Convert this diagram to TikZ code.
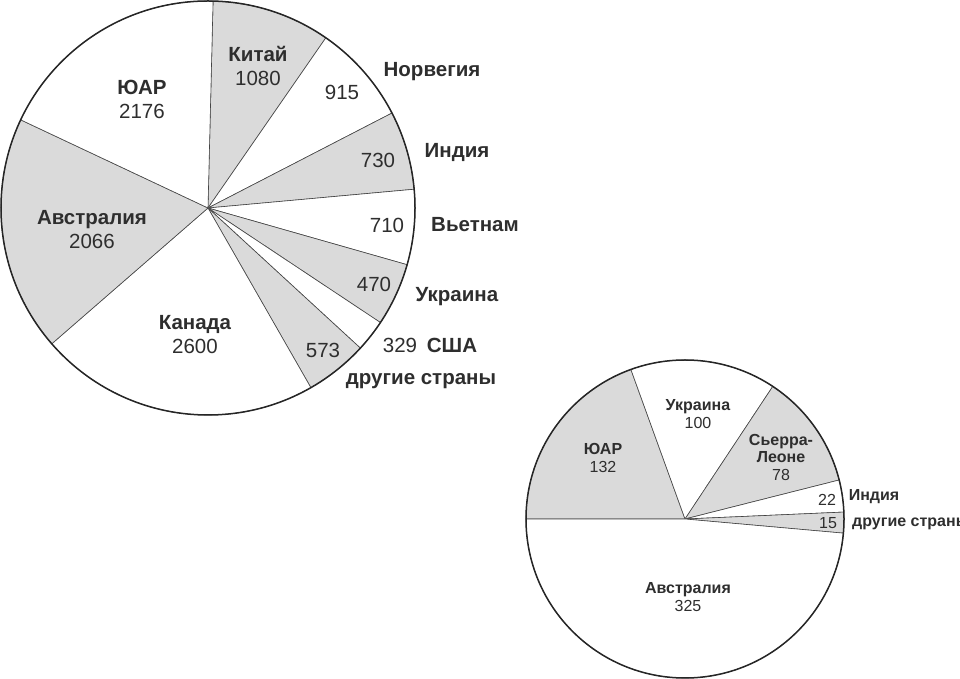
\documentclass[tikz,border=0pt]{standalone}
\usepackage{fontspec}
\setmainfont{Liberation Sans}
\definecolor{piegray}{HTML}{DADADA}
\definecolor{txt}{HTML}{2E2E2E}
\definecolor{edge}{HTML}{444444}
\tikzset{
  bigtxt/.style={text=txt, align=center, inner sep=0pt, font=\fontsize{20.5}{24}\selectfont},
  smalltxt/.style={text=txt, align=center, inner sep=0pt, font=\fontsize{16}{17.5}\selectfont},
  slice/.style={draw=edge, line width=0.6pt},
  rim/.style={draw=black!85, line width=1.5pt}
}
\def\pieslice#1#2#3#4#5{\filldraw[slice,fill=#1] #2 -- ++(#4:#3) arc[start angle=#4, end angle=#5, radius=#3] -- cycle;}
\begin{document}
\begin{tikzpicture}[x=1pt,y=1pt]
\useasboundingbox (0,0) rectangle (960,679);

%definitions
\def\bigc{(208,471)}
\def\bigr{207}
%
\def\smallc{(685,160)}
\def\smallr{159}

%fills, big pie
\pieslice{piegray}{\bigc}{\bigr}{88.6}{55.3}
\pieslice{white}{\bigc}{\bigr}{55.3}{27.3}
\pieslice{piegray}{\bigc}{\bigr}{27.3}{5.2}
\pieslice{white}{\bigc}{\bigr}{5.2}{-15.9}
\pieslice{piegray}{\bigc}{\bigr}{-15.9}{-33.6}
\pieslice{white}{\bigc}{\bigr}{-33.6}{-42.6}
\pieslice{piegray}{\bigc}{\bigr}{-42.6}{-60.2}
\pieslice{white}{\bigc}{\bigr}{-60.2}{-139}
\pieslice{piegray}{\bigc}{\bigr}{-139}{-205.2}
\pieslice{white}{\bigc}{\bigr}{-205.2}{-271.4}

%fills, small pie
\pieslice{piegray}{\smallc}{\smallr}{180}{109.9}
\pieslice{white}{\smallc}{\smallr}{109.9}{56.5}
\pieslice{piegray}{\smallc}{\smallr}{56.5}{14.2}
\pieslice{white}{\smallc}{\smallr}{14.2}{2.5}
\pieslice{piegray}{\smallc}{\smallr}{2.5}{-5.1}
\pieslice{white}{\smallc}{\smallr}{-5.1}{-180}

%shapes
\draw[rim] \bigc circle [radius=\bigr];
\draw[rim] \smallc circle [radius=\smallr];

%labels, big pie
\node[bigtxt] (chinaB) at (258,613) {\textbf{Китай}\\1080};
\node[bigtxt] (safB) at (142,580) {\textbf{ЮАР}\\2176};
\node[bigtxt] (ausB) at (92,449) {\textbf{Австралия}\\2066};
\node[bigtxt] (canB) at (195,344) {\textbf{Канада}\\2600};
\node[bigtxt] (norN) at (342,587) {915};
\node[bigtxt] (norL) at (432,607) {\textbf{Норвегия}};
\node[bigtxt] (indN) at (378,519) {730};
\node[bigtxt] (indL) at (457,527) {\textbf{Индия}};
\node[bigtxt] (vieN) at (387,454) {710};
\node[bigtxt] (vieL) at (475,454) {\textbf{Вьетнам}};
\node[bigtxt] (ukrN) at (374,395) {470};
\node[bigtxt] (ukrL) at (457,382) {\textbf{Украина}};
\node[bigtxt] (usaN) at (400,334) {329};
\node[bigtxt] (usaL) at (452,334) {\textbf{США}};
\node[bigtxt] (othN) at (323,329) {573};
\node[bigtxt] (othL) at (421,298) {\textbf{другие страны}};

%labels, small pie
\node[smalltxt] (ukrS) at (698,265) {\textbf{Украина}\\100};
\node[smalltxt] (safS) at (603,221) {\textbf{ЮАР}\\132};
\node[smalltxt] (sleS) at (781,222) {\textbf{Сьерра-}\\\textbf{Леоне}\\78};
\node[smalltxt] (indN2) at (827,179) {22};
\node[smalltxt] (indS) at (874,182) {\textbf{Индия}};
\node[smalltxt] (othN2) at (828,156) {15};
\node[smalltxt, anchor=west] (othS) at (852,155) {\textbf{другие страны}};
\node[smalltxt] (ausS) at (688,82) {\textbf{Австралия}\\325};
\end{tikzpicture}
\end{document}
